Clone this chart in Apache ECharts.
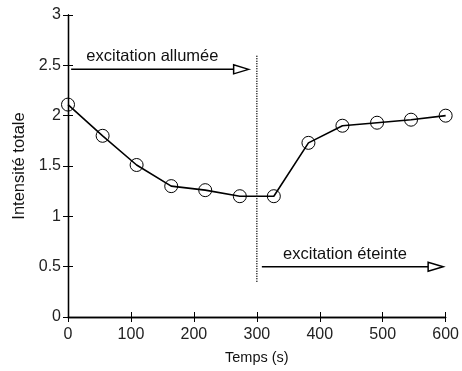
<!DOCTYPE html>
<html><head><meta charset="utf-8">
<script src="https://cdn.jsdelivr.net/npm/echarts@6/dist/echarts.min.js"></script>
<style>html,body{margin:0;padding:0;background:#fff}#c{width:462px;height:371px}</style>
</head><body><div id="c"></div>
<script>
const times = [0, 55, 109, 164, 218, 273, 327, 382, 436, 491, 545, 600];
const intensity = [2.11, 1.80, 1.51, 1.30, 1.26, 1.20, 1.20, 1.73, 1.90, 1.93, 1.96, 2.00];
const xTicks = [0, 100, 200, 300, 400, 500, 600];
const yTicks = [0, 0.5, 1, 1.5, 2, 2.5, 3];
const cutLine = [[300, 0.35], [300, 2.6]];
const arrowOn = [[5, 2.46], [287, 2.46]];
const arrowOff = [[308, 0.5], [596, 0.5]];
const labelOn = 'excitation allumée';
const labelOff = 'excitation éteinte';

const FONT = 'Liberation Sans';
const chart = echarts.init(document.getElementById('c'));
const axisCommon = {
  type: 'value',
  axisLine: {show: true, lineStyle: {color: '#000', width: 1.3}},
  axisTick: {show: true, inside: true, length: 5, lineStyle: {color: '#000', width: 1}},
  splitLine: {show: false}
};
function arrowRender(pts, label) {
  return function (params, api) {
    const a = api.coord(pts[0]), b = api.coord(pts[1]);
    const L = 15, H = 4.5;
    return {
      type: 'group',
      children: [
        {type: 'line', shape: {x1: a[0], y1: a[1], x2: b[0] - L, y2: b[1]}, style: {stroke: '#000', lineWidth: 1.5}},
        {type: 'polygon', shape: {points: [[b[0], b[1]], [b[0] - L, b[1] - H], [b[0] - L, b[1] + H]]}, style: {fill: '#fff', stroke: '#000', lineWidth: 1.5}},
        {type: 'text', style: {text: label, x: (a[0] + b[0] - L) / 2, y: a[1] - 4, align: 'center', verticalAlign: 'bottom', fontSize: 16.5, fontFamily: FONT, fill: '#111'}}
      ]
    };
  };
}
chart.setOption({
  animation: false,
  grid: {left: 68, right: 14, top: 15, bottom: 54},
  xAxis: [
    Object.assign({}, axisCommon, {min: 0, max: 600, interval: 100, position: 'bottom',
      axisLabel: {fontSize: 16, fontFamily: FONT, color: '#222', margin: 10,
        formatter: v => xTicks.includes(v) ? String(v) : ''},
      name: 'Temps (s)', nameLocation: 'middle', nameGap: 33,
      nameTextStyle: {fontSize: 14.5, fontFamily: FONT, color: '#111'}}),
    Object.assign({}, axisCommon, {min: 0, max: 600, interval: 100, position: 'top', axisLabel: {show: false}})
  ],
  yAxis: [
    Object.assign({}, axisCommon, {min: 0, max: 3, interval: 0.5, position: 'left',
      axisLabel: {fontSize: 16, fontFamily: FONT, color: '#222', margin: 7,
        formatter: v => yTicks.includes(v) ? String(v) : ''},
      name: 'Intensité totale', nameLocation: 'middle', nameGap: 38,
      nameTextStyle: {fontSize: 16.5, fontFamily: FONT, color: '#111'}}),
    Object.assign({}, axisCommon, {min: 0, max: 3, interval: 0.5, position: 'right', axisLabel: {show: false}})
  ],
  series: [
    {type: 'line', data: cutLine, symbol: 'none', silent: true,
      lineStyle: {color: '#000', width: 1.5, type: [1, 1.5]}},
    {type: 'line', data: times.map((t, i) => [t, intensity[i]]),
      symbol: 'circle', symbolSize: 13,
      itemStyle: {color: 'rgba(0,0,0,0)', borderColor: '#000', borderWidth: 1},
      lineStyle: {color: '#000', width: 1.6}, z: 3},
    {type: 'custom', renderItem: arrowRender(arrowOn, labelOn), data: [0], coordinateSystem: 'cartesian2d', silent: true},
    {type: 'custom', renderItem: arrowRender(arrowOff, labelOff), data: [0], coordinateSystem: 'cartesian2d', silent: true}
  ]
});
</script></body></html>
